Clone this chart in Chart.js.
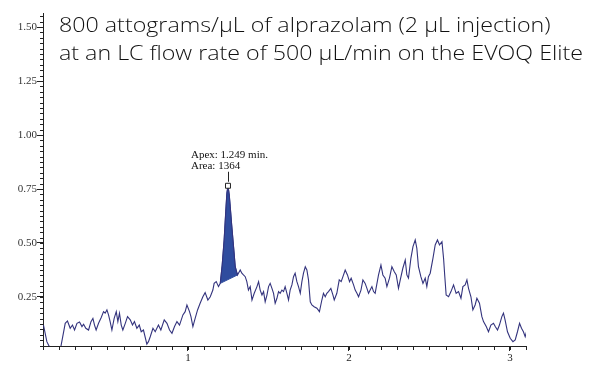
<!DOCTYPE html>
<html><head><meta charset="utf-8">
<script src="https://cdn.jsdelivr.net/npm/chart.js@4.4.1/dist/chart.umd.min.js"></script>
<style>html,body{margin:0;padding:0;background:#fff}#wrap{width:600px;height:370px;position:relative}</style>
</head><body><div id="wrap"><canvas id="c" width="600" height="370"></canvas></div>
<script>
// ---- text ----
const titleLines = ["800 attograms/\u00B5L of alprazolam (2 \u00B5L injection)", "at an LC flow rate of 500 \u00B5L/min on the EVOQ Elite"];
const annotationLines = ["Apex: 1.249 min.", "Area: 1364"];

// ---- axis ticks ----
const yTickValues = [0.25, 0.50, 0.75, 1.00, 1.25, 1.50];
const yTickLabels = ["0.25", "0.50", "0.75", "1.00", "1.25", "1.50"];
const xTickValues = [1, 2, 3];
const xTickLabels = ["1", "2", "3"];

// ---- chromatogram trace (min, intensity) ----
const retentionTime = [0.103,0.124,0.140,0.157,0.188,0.211,0.238,0.252,0.269,0.283,0.296,0.311,0.327,0.342,0.352,0.366,0.383,0.398,0.410,0.420,0.430,0.445,0.461,0.476,0.486,0.497,0.507,0.517,0.528,0.542,0.555,0.565,0.575,0.586,0.596,0.611,0.625,0.642,0.656,0.668,0.683,0.698,0.710,0.724,0.745,0.755,0.766,0.783,0.797,0.817,0.832,0.853,0.870,0.886,0.901,0.917,0.932,0.948,0.969,0.983,0.994,1.010,1.019,1.031,1.045,1.060,1.076,1.093,1.107,1.124,1.139,1.155,1.163,1.176,1.190,1.201,1.213,1.225,1.235,1.242,1.249,1.257,1.263,1.272,1.280,1.288,1.294,1.308,1.325,1.335,1.345,1.356,1.366,1.376,1.387,1.398,1.412,1.429,1.439,1.449,1.460,1.470,1.480,1.491,1.501,1.511,1.522,1.532,1.542,1.553,1.563,1.573,1.584,1.594,1.604,1.615,1.625,1.635,1.646,1.656,1.666,1.677,1.687,1.698,1.708,1.718,1.729,1.739,1.749,1.760,1.770,1.784,1.801,1.817,1.832,1.842,1.853,1.863,1.873,1.888,1.901,1.909,1.925,1.940,1.952,1.963,1.977,1.991,2.004,2.014,2.029,2.039,2.050,2.060,2.075,2.087,2.101,2.112,2.122,2.132,2.143,2.153,2.163,2.184,2.199,2.211,2.225,2.236,2.252,2.267,2.282,2.294,2.308,2.319,2.335,2.350,2.360,2.370,2.385,2.398,2.412,2.422,2.432,2.447,2.460,2.474,2.484,2.494,2.505,2.522,2.536,2.550,2.563,2.578,2.588,2.595,2.604,2.619,2.634,2.650,2.666,2.681,2.696,2.708,2.722,2.733,2.743,2.758,2.770,2.784,2.795,2.811,2.826,2.836,2.853,2.867,2.882,2.898,2.909,2.923,2.935,2.950,2.960,2.970,2.985,3.002,3.019,3.033,3.047,3.060,3.072,3.084,3.095,3.106];
const intensity = [0.120,0.043,0.019,-0.020,-0.020,0.020,0.128,0.139,0.105,0.120,0.097,0.128,0.134,0.113,0.124,0.105,0.097,0.136,0.151,0.120,0.097,0.128,0.154,0.182,0.175,0.190,0.167,0.136,0.097,0.151,0.182,0.136,0.175,0.120,0.097,0.128,0.159,0.144,0.120,0.136,0.105,0.120,0.089,0.097,0.032,0.043,0.066,0.105,0.089,0.120,0.097,0.144,0.128,0.097,0.082,0.113,0.136,0.120,0.167,0.182,0.213,0.182,0.159,0.113,0.151,0.190,0.221,0.251,0.270,0.236,0.251,0.282,0.313,0.321,0.298,0.313,0.398,0.514,0.644,0.730,0.765,0.722,0.668,0.583,0.514,0.444,0.390,0.352,0.375,0.360,0.352,0.344,0.321,0.282,0.298,0.236,0.267,0.298,0.321,0.282,0.259,0.275,0.228,0.259,0.298,0.313,0.290,0.267,0.221,0.244,0.275,0.267,0.282,0.275,0.298,0.267,0.236,0.282,0.306,0.344,0.360,0.321,0.298,0.267,0.321,0.360,0.390,0.375,0.329,0.228,0.213,0.205,0.198,0.182,0.236,0.267,0.251,0.267,0.275,0.290,0.259,0.236,0.267,0.329,0.321,0.344,0.375,0.352,0.321,0.337,0.306,0.282,0.267,0.251,0.282,0.329,0.313,0.290,0.267,0.282,0.298,0.275,0.267,0.352,0.398,0.352,0.337,0.298,0.337,0.390,0.367,0.352,0.290,0.329,0.383,0.421,0.352,0.337,0.429,0.483,0.514,0.475,0.390,0.344,0.313,0.337,0.298,0.344,0.360,0.429,0.491,0.514,0.491,0.506,0.429,0.352,0.259,0.251,0.275,0.306,0.267,0.275,0.244,0.298,0.306,0.329,0.290,0.251,0.190,0.213,0.244,0.221,0.159,0.136,0.113,0.089,0.120,0.128,0.113,0.097,0.120,0.159,0.175,0.144,0.089,0.059,0.043,0.051,0.089,0.128,0.105,0.089,0.066,0.097];

// ---- integrated peak ----
const peakStartTime = [1.201];
const peakEndTime = [1.308];
const apexTime = [1.249];
const apexIntensity = [0.765];

const trace = retentionTime.map((t, i) => ({x: t, y: intensity[i]}));
const peakPts = trace.filter(p => p.x >= peakStartTime[0] && p.x <= peakEndTime[0]);
const peakShape = peakPts.concat([peakPts[0]]);
const apexPoint = apexTime.map((t, i) => ({x: t, y: apexIntensity[i]}));

const LINE = '#33337d';
const FILL = '#2f4c9e';

const overlay = {
  id: 'overlay',
  afterDraw(chart) {
    const ctx = chart.ctx, xs = chart.scales.x, ys = chart.scales.y, ca = chart.chartArea;
    ctx.save();
    ctx.strokeStyle = '#222';
    ctx.lineWidth = 1;
    // minor ticks y (every 0.025)
    ctx.beginPath();
    for (let k = 1; k <= 62; k++) {
      const v = k * 0.025;
      if (v < ys.min || v > ys.max) continue;
      const py = Math.round(ys.getPixelForValue(v)) + 0.5;
      ctx.moveTo(ca.left - 3, py); ctx.lineTo(ca.left, py);
    }
    // minor ticks x (every 0.1)
    for (let k = 1; k <= 31; k++) {
      const v = k * 0.1;
      if (v < xs.min - 1e-6 || v > xs.max + 1e-6) continue;
      const px = Math.round(xs.getPixelForValue(v)) + 0.5;
      ctx.moveTo(px, ca.bottom); ctx.lineTo(px, ca.bottom + 4);
    }
    ctx.stroke();
    // apex annotation
    const ax = xs.getPixelForValue(apexTime[0]);
    const ay = ys.getPixelForValue(apexIntensity[0]);
    ctx.beginPath();
    ctx.moveTo(Math.round(ax) + 0.5, ay - 4);
    ctx.lineTo(Math.round(ax) + 0.5, ay - 14);
    ctx.stroke();
    ctx.fillStyle = '#111';
    ctx.font = '11px "Liberation Serif", serif';
    ctx.textAlign = 'left';
    ctx.textBaseline = 'alphabetic';
    ctx.fillText(annotationLines[0], ax - 37, ay - 28);
    ctx.fillText(annotationLines[1], ax - 37, ay - 17);
    // title (stretched horizontally to the reference's wide face)
    ctx.fillStyle = '#111';
    ctx.font = '300 21px "Open Sans", "Liberation Sans", sans-serif';
    const w = ctx.measureText(titleLines[1]).width;
    const sx = 524 / w;
    ctx.translate(59, 0);
    ctx.scale(sx, 1);
    ctx.fillText(titleLines[0], 0, 32);
    ctx.fillText(titleLines[1], 0, 60);
    ctx.restore();
  }
};

new Chart(document.getElementById('c'), {
  type: 'line',
  data: {
    datasets: [
      {
        data: apexPoint, showLine: false, pointStyle: 'rect', pointRadius: 3.5,
        pointBackgroundColor: '#ffffff', pointBorderColor: '#222', pointBorderWidth: 1, order: 0
      },
      {
        data: trace, borderColor: LINE, borderWidth: 1.1, pointRadius: 0, tension: 0, fill: false, order: 1
      },
      {
        data: peakShape, borderColor: FILL, backgroundColor: FILL, borderWidth: 1, pointRadius: 0,
        tension: 0, fill: 'shape', order: 2
      }
    ]
  },
  options: {
    responsive: false,
    animation: false,
    devicePixelRatio: 1,
    layout: {padding: {top: 13, right: 74, left: 0, bottom: 0}},
    plugins: {legend: {display: false}, tooltip: {enabled: false}, title: {display: false}},
    scales: {
      x: {
        type: 'linear', min: 0.1, max: 3.1,
        afterBuildTicks: a => { a.ticks = xTickValues.map(v => ({value: v})); },
        afterFit: s => { s.height = 24; },
        ticks: {
          callback: (v, i) => xTickLabels[i], padding: 1, maxRotation: 0,
          color: '#222', font: {family: '"Liberation Serif", serif', size: 11}
        },
        grid: {drawOnChartArea: false, drawTicks: true, tickLength: 5, tickColor: '#222'},
        border: {display: true, color: '#222', width: 1}
      },
      y: {
        type: 'linear', min: 0.023, max: 1.565,
        afterBuildTicks: a => { a.ticks = yTickValues.map(v => ({value: v})); },
        afterFit: s => { s.width = 43; },
        ticks: {
          callback: (v, i) => yTickLabels[i], padding: 0,
          color: '#333', font: {family: '"Liberation Serif", serif', size: 11}
        },
        grid: {drawOnChartArea: false, drawTicks: true, tickLength: 6, tickColor: '#222'},
        border: {display: true, color: '#222', width: 1}
      }
    }
  },
  plugins: [overlay]
});
</script>
</body></html>
